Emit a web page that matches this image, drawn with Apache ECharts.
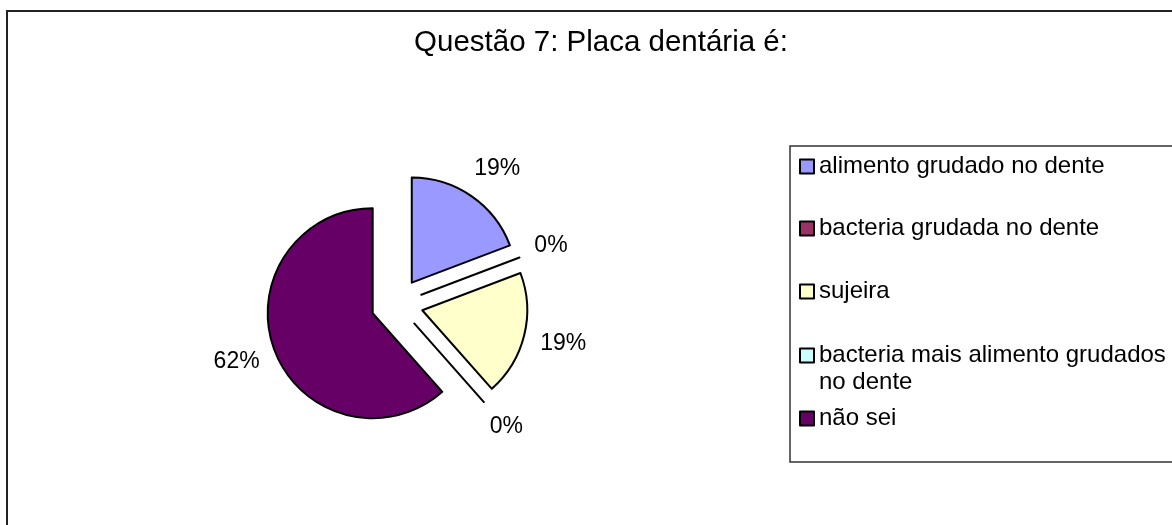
<!DOCTYPE html>
<html>
<head>
<meta charset="utf-8">
<style>
html,body{margin:0;padding:0;background:#fff;}
#main{width:1172px;height:525px;}
</style>
</head>
<body>
<div id="main"></div>
<script src="https://cdn.jsdelivr.net/npm/echarts@6/dist/echarts.min.js"></script>
<script type="text/javascript">
// dados da questão 7
var titulo = 'Questão 7: Placa dentária é:';
var categorias = ['alimento grudado no dente', 'bacteria grudada no dente', 'sujeira', 'bacteria mais alimento grudados no dente', 'não sei'];
var respostas = [5, 0, 5, 0, 16];
var cores = ['#9999FF', '#993366', '#FFFFCC', '#CCFFFF', '#660066'];

// posição vertical de cada item da legenda
var legendaTopo = [153, 215, 278, 315, 405];
var fonte = 'Liberation Sans';

var myChart = echarts.init(document.getElementById('main'));

var legendas = categorias.map(function (nome, i) {
    var leg = {
        orient: 'vertical',
        left: 799,
        top: legendaTopo[i],
        padding: 0,
        itemWidth: 14,
        itemHeight: 14,
        icon: 'rect',
        selectedMode: false,
        data: [nome],
        itemStyle: {borderColor: '#000', borderWidth: 2},
        textStyle: {
            fontFamily: fonte,
            fontSize: 24,
            lineHeight: 27,
            color: '#000'
        }
    };
    if (i === 3) {
        // linha vazia em cima para o quadrado ficar na primeira linha
        leg.formatter = function (n) {
            var k = n.lastIndexOf(' no dente');
            return '{sp| }\n' + n.slice(0, k) + '\n' + n.slice(k + 1);
        };
        leg.textStyle.rich = {sp: {fontSize: 24, lineHeight: 27}};
    }
    return leg;
});

var option = {
    animation: false,
    color: cores,
    title: {
        text: titulo,
        left: 601,
        top: 26,
        padding: 0,
        textAlign: 'center',
        textStyle: {
            fontFamily: fonte,
            fontSize: 29.5,
            lineHeight: 34,
            fontWeight: 'normal',
            color: '#000'
        }
    },
    legend: legendas,
    graphic: [
        {type: 'rect', z: -1, shape: {x: 7, y: 11, width: 1200, height: 600}, style: {fill: 'none', stroke: '#222', lineWidth: 2}},
        {type: 'rect', z: -1, shape: {x: 790, y: 146, width: 420, height: 316}, style: {fill: 'none', stroke: '#333', lineWidth: 1.5}}
    ],
    series: [
        {
            name: titulo,
            type: 'pie',
            center: [397, 304],
            radius: 105,
            startAngle: 90,
            clockwise: true,
            selectedMode: 'multiple',
            selectedOffset: 26,
            avoidLabelOverlap: false,
            percentPrecision: 0,
            itemStyle: {borderColor: '#000', borderWidth: 2},
            select: {itemStyle: {borderColor: '#000', borderWidth: 2}},
            emphasis: {disabled: true},
            label: {
                show: true,
                position: 'outside',
                formatter: '{d}%',
                fontFamily: fonte,
                fontSize: 23,
                color: '#000',
                distanceToLabelLine: -16
            },
            labelLine: {show: false, length: 33, length2: 0},
            data: categorias.map(function (nome, i) {
                return {name: nome, value: respostas[i], selected: true};
            })
        }
    ]
};

myChart.setOption(option);
</script>
</body>
</html>
